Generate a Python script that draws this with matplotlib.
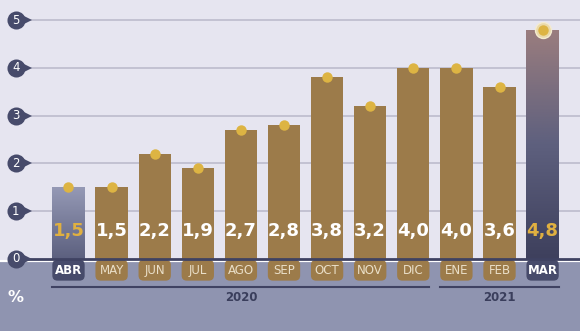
import numpy as np
import matplotlib.pyplot as plt
from matplotlib.patches import FancyBboxPatch
from matplotlib.colors import LinearSegmentedColormap

# data
months = ['ABR', 'MAY', 'JUN', 'JUL', 'AGO', 'SEP', 'OCT', 'NOV', 'DIC', 'ENE', 'FEB', 'MAR']
values = [1.5, 1.5, 2.2, 1.9, 2.7, 2.8, 3.8, 3.2, 4.0, 4.0, 3.6, 4.8]
labels = ['1,5', '1,5', '2,2', '1,9', '2,7', '2,8', '3,8', '3,2', '4,0', '4,0', '3,6', '4,8']
yticks = [0, 1, 2, 3, 4, 5]
years = ['2020', '2021']
year_spans = [(0, 8), (9, 11)]

bg = '#E6E5F0'
band = '#8F94B0'
gold_bar = '#9C7B4A'
navy = '#474B6B'
dot = '#DDB443'
hl_text = '#E0B040'

fig = plt.figure(figsize=(5.8, 3.31), dpi=100)
ax = fig.add_axes([0, 0, 1, 1])
ax.set_xlim(-68.5 / 43.1, (580 - 68.5) / 43.1)
ax.set_ylim(-72 / 47.8, (331 - 72) / 47.8)
ax.axis('off')
fig.patch.set_facecolor(bg)
ax.set_facecolor(bg)

# background and lower band
ax.axhspan(-2, -0.045, color=band, zorder=0)
ax.axhline(-0.05, color='white', lw=1.6, zorder=1)

# grid lines
for t in yticks[1:]:
    ax.plot([-0.9, 12], [t, t], color='#C3C2D2', lw=1.4, zorder=1)
ax.plot([-1.1, 12], [0, 0], color='#3F4262', lw=2, zorder=4)

# y tick markers (teardrop)
for t in yticks:
    ax.plot(-1.02, t, marker='>', ms=9.5, color=navy, zorder=5, mew=0)
    ax.plot(-1.22, t, marker='o', ms=13, color=navy, zorder=6, mew=0)
    ax.text(-1.22, t, str(t), color='white', fontsize=8.5, ha='center', va='center', zorder=7)

w = 0.75
grad = np.linspace(0, 1, 100).reshape(-1, 1)
cm_abr = LinearSegmentedColormap.from_list('abr', ['#5C607F', '#9599B5'])
cm_mar = LinearSegmentedColormap.from_list('mar', ['#3E405D', '#5E607E', '#9A7D7E'])

for i, v in enumerate(values):
    hl = i == 0 or i == len(values) - 1
    if hl:
        cmap = cm_abr if i == 0 else cm_mar
        bar = ax.bar(i, v, width=w, color='none', zorder=2)[0]
        im = ax.imshow(grad, extent=[i - w / 2, i + w / 2, 0, v], origin='lower',
                       cmap=cmap, aspect='auto', zorder=2)
        im.set_clip_path(bar)
        txt_color = hl_text
    else:
        ax.bar(i, v, width=w, color=gold_bar, zorder=2)
        txt_color = 'white'
    ax.text(i, 0.59, labels[i], color=txt_color, fontsize=13, fontweight='bold',
            ha='center', va='center', zorder=3)

    # month box
    box = FancyBboxPatch((i - w / 2 + 0.07, -0.39), w - 0.14, 0.31,
                         boxstyle='round,pad=0.07,rounding_size=0.12',
                         mutation_aspect=0.9, fc=navy if hl else gold_bar, ec='none', zorder=3)
    ax.add_patch(box)
    ax.text(i, -0.235, months[i], color='white' if hl else '#EADFC8', fontsize=8.5,
            fontweight='bold' if hl else 'normal', ha='center', va='center', zorder=4)

# dots on the top of each bar
ax.plot(range(len(values) - 1), values[:-1], 'o', ms=7.5, color=dot, mew=0, zorder=5)
ax.plot(len(values) - 1, values[-1], 'o', ms=11.5, color='#EAD9A8', mec='#F4EBD0', mew=1, zorder=5)
ax.plot(len(values) - 1, values[-1], 'o', ms=7.5, color=dot, mew=0, zorder=6)

# year brackets
for yr, (a, b) in zip(years, year_spans):
    ax.plot([a - w / 2, b + w / 2], [-0.586, -0.586], color='#3F4262', lw=1.5, zorder=3)
    ax.text((a + b) / 2, -0.8, yr, color='#3A3E5C', fontsize=8.5, fontweight='bold',
            ha='center', va='center', zorder=3)

ax.text(-1.22, -0.8, '%', color='white', fontsize=11.5, fontweight='bold',
        ha='center', va='center', zorder=3)

fig.savefig('out.png', dpi=100, facecolor=bg)
